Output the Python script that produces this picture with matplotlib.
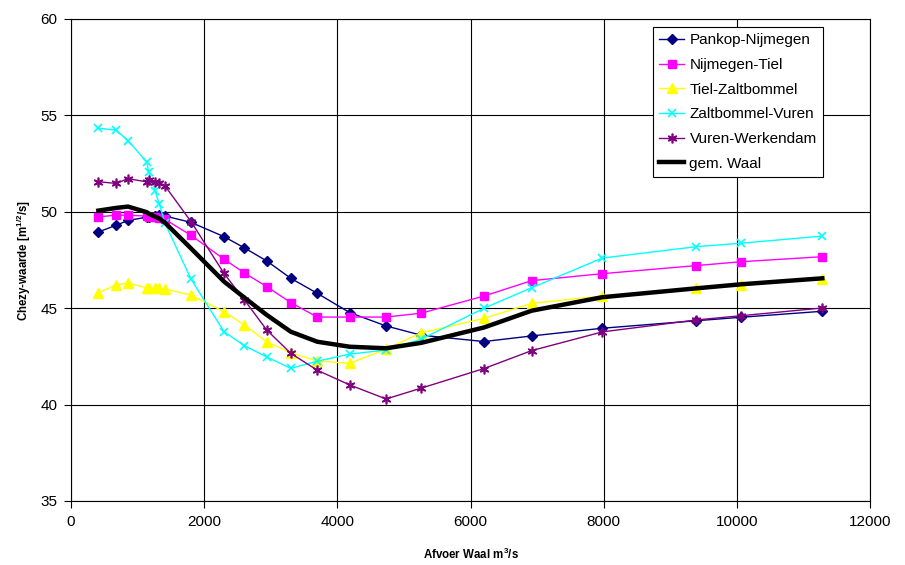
import matplotlib
matplotlib.use("Agg")
import matplotlib.pyplot as plt

plt.rcParams['font.family'] = ['Liberation Sans', 'DejaVu Sans']
plt.rcParams['mathtext.fontset'] = 'custom'
plt.rcParams['mathtext.rm'] = 'Liberation Sans'
plt.rcParams['mathtext.bf'] = 'Liberation Sans:bold'

# afvoer (m3/s)
afvoer = [410, 676, 856, 1137, 1167, 1262, 1326, 1412, 1802, 2298, 2603, 2939,
          3300, 3699, 4186, 4731, 5257, 6203, 6919, 7980, 9392, 10067, 11284]

pankop_nijmegen = [48.95, 49.30, 49.55, 49.72, 49.75, 49.80, 49.82, 49.78, 49.45,
                   48.71, 48.13, 47.45, 46.55, 45.77, 44.77, 44.08, 43.60, 43.27,
                   43.56, 43.96, 44.35, 44.53, 44.84]
nijmegen_tiel = [49.73, 49.83, 49.82, 49.78, 49.75, 49.71, 49.66, 49.60, 48.78,
                 47.54, 46.83, 46.12, 45.29, 44.54, 44.54, 44.54, 44.74, 45.63,
                 46.43, 46.79, 47.21, 47.41, 47.67]
tiel_zaltbommel = [45.80, 46.20, 46.31, 46.05, 46.03, 46.03, 46.03, 46.00, 45.68,
                   44.82, 44.13, 43.26, 42.69, 42.26, 42.14, 42.87, 43.72, 44.47,
                   45.25, 45.63, 46.03, 46.20, 46.51]
zaltbommel_vuren = [54.33, 54.24, 53.69, 52.58, 52.06, 51.09, 50.39, 49.40, 46.51,
                    43.78, 43.06, 42.47, 41.88, 42.25, 42.62, 42.83, 43.39, 45.00,
                    46.06, 47.60, 48.19, 48.37, 48.74]
vuren_werkendam = [51.56, 51.47, 51.72, 51.55, 51.65, 51.56, 51.50, 51.34, 49.49,
                   46.80, 45.43, 43.87, 42.66, 41.78, 41.02, 40.29, 40.85, 41.87,
                   42.80, 43.77, 44.39, 44.61, 45.01]
gem_waal = [50.06, 50.20, 50.27, 49.98, 49.90, 49.75, 49.65, 49.43, 48.10,
            46.38, 45.55, 44.65, 43.78, 43.26, 43.00, 42.92, 43.20, 44.00,
            44.87, 45.57, 46.03, 46.24, 46.55]

fig = plt.figure(figsize=(9.05, 5.65), dpi=100)
ax = fig.add_axes([0.0785, 0.1133, 0.8828, 0.8531])

ax.plot(afvoer, pankop_nijmegen, color='#000080', marker='D', markersize=5,
        linewidth=1, label='Pankop-Nijmegen')
ax.plot(afvoer, nijmegen_tiel, color='#FF00FF', marker='s', markersize=6,
        linewidth=1, label='Nijmegen-Tiel')
ax.plot(afvoer, tiel_zaltbommel, color='#FFFF00', marker='^', markersize=7,
        linewidth=1, label='Tiel-Zaltbommel')
ax.plot(afvoer, zaltbommel_vuren, color='#00FFFF', marker='x', markersize=6,
        markeredgewidth=1.2, linewidth=1, label='Zaltbommel-Vuren')
ax.plot(afvoer, vuren_werkendam, color='#800080', marker=(6, 2, 0), markersize=7,
        markeredgewidth=1.2, linewidth=1, label='Vuren-Werkendam')
ax.plot(afvoer, gem_waal, color='black', linewidth=3.2, label='gem. Waal')

ax.set_xlim(0, 12000)
ax.set_ylim(35, 60)
ax.set_xticks(range(0, 12001, 2000))
ax.set_yticks(range(35, 61, 5))
ax.grid(True, color='black', linewidth=0.8)
ax.set_axisbelow(True)
for s in ax.spines.values():
    s.set_color('black')
    s.set_linewidth(0.8)
ax.tick_params(direction='out', length=5, width=0.8, labelsize=11, pad=5)

ax.set_xlabel(r'Afvoer Waal m$^{\mathbf{3}}$/s', fontsize=8.3, fontweight='bold', labelpad=13)
ax.set_ylabel(r'Chezy-waarde [m$^{\mathbf{1/2}}$/s]', fontsize=8.3, fontweight='bold', labelpad=5)

leg = ax.legend(loc='upper right', bbox_to_anchor=(0.941, 0.983), borderaxespad=0,
                fontsize=11, frameon=True, fancybox=False, edgecolor='black',
                framealpha=1, labelspacing=0.7, handlelength=1.65,
                handletextpad=0.35, borderpad=0.4)
leg.get_frame().set_linewidth(0.8)

fig.savefig('out.png', dpi=100)
